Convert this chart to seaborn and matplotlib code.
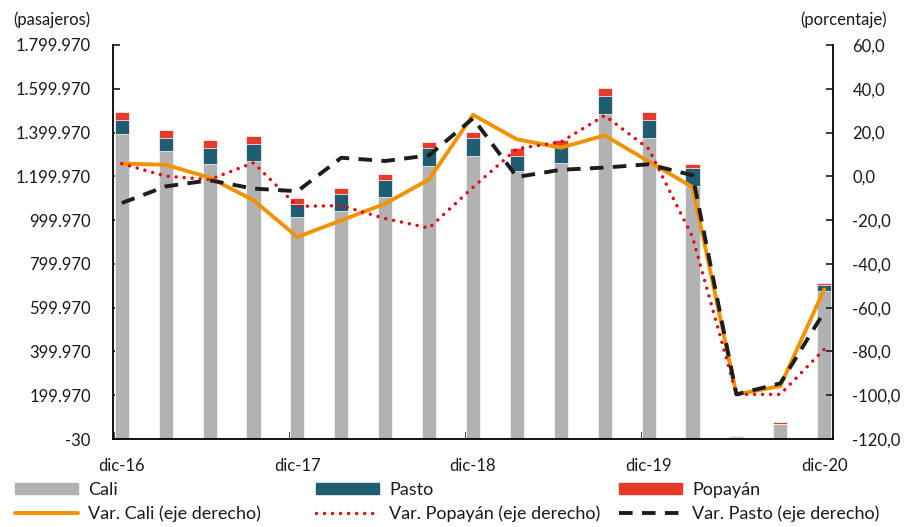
import numpy as np
import pandas as pd
import matplotlib
matplotlib.use("Agg")
import matplotlib.pyplot as plt
import matplotlib.ticker as mticker
from matplotlib.lines import Line2D
from matplotlib.patches import Patch
import seaborn as sns

periodos = ["dic-16", "mar-17", "jun-17", "sep-17", "dic-17", "mar-18", "jun-18", "sep-18",
            "dic-18", "mar-19", "jun-19", "sep-19", "dic-19", "mar-20", "jun-20", "sep-20", "dic-20"]
cali = [1395000, 1314000, 1258000, 1268000, 1013000, 1040000, 1104000, 1249000, 1294000,
        1223000, 1259000, 1486000, 1376000, 1158000, 5000, 67000, 677000]
pasto = [64000, 62500, 71000, 79000, 62500, 79000, 81000, 80000, 80000,
         70000, 81000, 80000, 80000, 80000, 3000, 2000, 27000]
popayan = [36500, 36500, 38000, 38000, 27000, 29000, 27000, 29000, 27000,
           38000, 27000, 38000, 37000, 20000, 5000, 7000, 6500]
var_cali = [5.8, 5.3, -0.6, -10.9, -27.7, -20.1, -12.5, -1.4, 28.1, 16.9, 13.1, 18.7, 6.8,
            -4.9, -99.6, -95.8, -51.7]
var_popayan = [5.8, 0.1, -1.5, 6.2, -13.7, -13.4, -19.3, -23.6, -5.0, 12.6, 15.7, 27.8, 12.6,
               -27.7, -99.6, -99.6, -79.0]
var_pasto = [-12.2, -4.6, -1.8, -5.6, -6.8, 8.5, 7.0, 9.6, 26.5, -0.3, 3.0, 4.0, 5.5,
             0.5, -99.6, -94.6, -61.9]
etiquetas_x = ["dic-16", "dic-17", "dic-18", "dic-19", "dic-20"]

GRIS, AZUL, ROJO = "#B2B2B2", "#215D70", "#E63A2B"
NARANJA, ROJO_L, NEGRO = "#F39200", "#E30613", "#1D1D1B"
TXT = "#1a1a1a"

sns.set_theme(style="white")
plt.rcParams["font.family"] = ["Lato", "DejaVu Sans"]
plt.rcParams["font.size"] = 12

df = pd.DataFrame({"periodo": periodos, "cali": cali, "pasto": pasto, "popayan": popayan})
df["x"] = np.arange(len(df))
df["cali_pasto"] = df["cali"] + df["pasto"]
df["total"] = df["cali_pasto"] + df["popayan"]

fig = plt.figure(figsize=(9.07, 5.27), dpi=100)
ax = fig.add_axes([113 / 907, 1 - 439 / 527, 720 / 907, 394 / 527])

# barras apiladas: total, luego cali+pasto, luego cali encima
for col, c in [("total", ROJO), ("cali_pasto", AZUL), ("cali", GRIS)]:
    sns.barplot(data=df, x="x", y=col, native_scale=True, color=c, saturation=1,
                width=0.32, errorbar=None, edgecolor="white", linewidth=0.5, ax=ax)

ax.set_xlim(-0.2, 16.2)
ax.set_ylim(-30, 1799970)
ax.set_yticks(np.arange(-30, 1799971, 200000))
ax.yaxis.set_major_formatter(mticker.FuncFormatter(lambda v, _: f"{int(round(v)):,}".replace(",", ".")))
ax.set_xticks([-0.18, 3.83, 7.84, 11.86, 15.87])
ax.set_xticklabels([])
ax.set_xticks([0, 4, 8, 12, 16], minor=True)
ax.set_xticklabels(etiquetas_x, minor=True)
ax.set_xlabel("")
ax.set_ylabel("")
ax.tick_params(axis="y", direction="in", length=5, width=1.2, pad=16, labelsize=12, colors=TXT)
ax.tick_params(axis="x", which="major", direction="in", length=5, width=1.2, bottom=True)
ax.tick_params(axis="x", which="minor", length=0, pad=14, labelsize=12, colors=TXT, bottom=True)
for s in ["top", "right"]:
    ax.spines[s].set_visible(False)
for s in ["left", "bottom"]:
    ax.spines[s].set_color("black")
    ax.spines[s].set_linewidth(1.3)

ax2 = ax.twinx()
xs = np.arange(len(periodos))
sns.lineplot(x=xs, y=var_cali, ax=ax2, color=NARANJA, linewidth=2.8, legend=False)
sns.lineplot(x=xs, y=var_popayan, ax=ax2, color=ROJO_L, linewidth=2.5,
             linestyle=(0, (0.01, 2.3)), dash_capstyle="round", legend=False)
sns.lineplot(x=xs, y=var_pasto, ax=ax2, color=NEGRO, linewidth=2.8,
             linestyle=(0, (3.5, 2.4)), legend=False)
ax2.set_ylim(-120, 60)
ax2.set_yticks(np.arange(-120, 61, 20))
ax2.yaxis.set_major_formatter(mticker.FuncFormatter(lambda v, _: f"{v:.1f}".replace(".", ",")))
ax2.tick_params(axis="y", direction="in", length=5, width=1.2, pad=14, labelsize=12, colors=TXT)
for lab in ax2.get_yticklabels():
    lab.set_ha("left")
ax2.set_xlim(-0.2, 16.2)
for s in ["top", "left", "bottom"]:
    ax2.spines[s].set_visible(False)
ax2.spines["right"].set_color("black")
ax2.spines["right"].set_linewidth(1.3)

fig.text(90 / 907, 1 - 20 / 527, "(pasajeros)", ha="right", va="center", fontsize=12, color=TXT)
fig.text(800 / 907, 1 - 20 / 527, "(porcentaje)", ha="left", va="center", fontsize=12, color=TXT)

columnas = [
    (15, [Patch(color=GRIS), Line2D([], [], color=NARANJA, lw=2.8)],
     ["Cali", "Var. Cali (eje derecho)"]),
    (316, [Patch(color=AZUL), Line2D([], [], color=ROJO_L, lw=2.5, linestyle=(0, (0.01, 2.3)),
                                     dash_capstyle="round")],
     ["Pasto", "Var. Popayán (eje derecho)"]),
    (619, [Patch(color=ROJO), Line2D([], [], color=NEGRO, lw=2.8, linestyle=(0, (3.5, 2.4)))],
     ["Popayán", "Var. Pasto (eje derecho)"]),
]
for x0, h, l in columnas:
    fig.legend(h, l, loc="upper left", bbox_to_anchor=(x0 / 907, 1 - 482 / 527),
               frameon=False, fontsize=13, handlelength=3.5, handleheight=0.55,
               handletextpad=0.55, labelspacing=0.4, borderpad=0, borderaxespad=0,
               labelcolor=TXT)

fig.savefig("out.png", dpi=100)
